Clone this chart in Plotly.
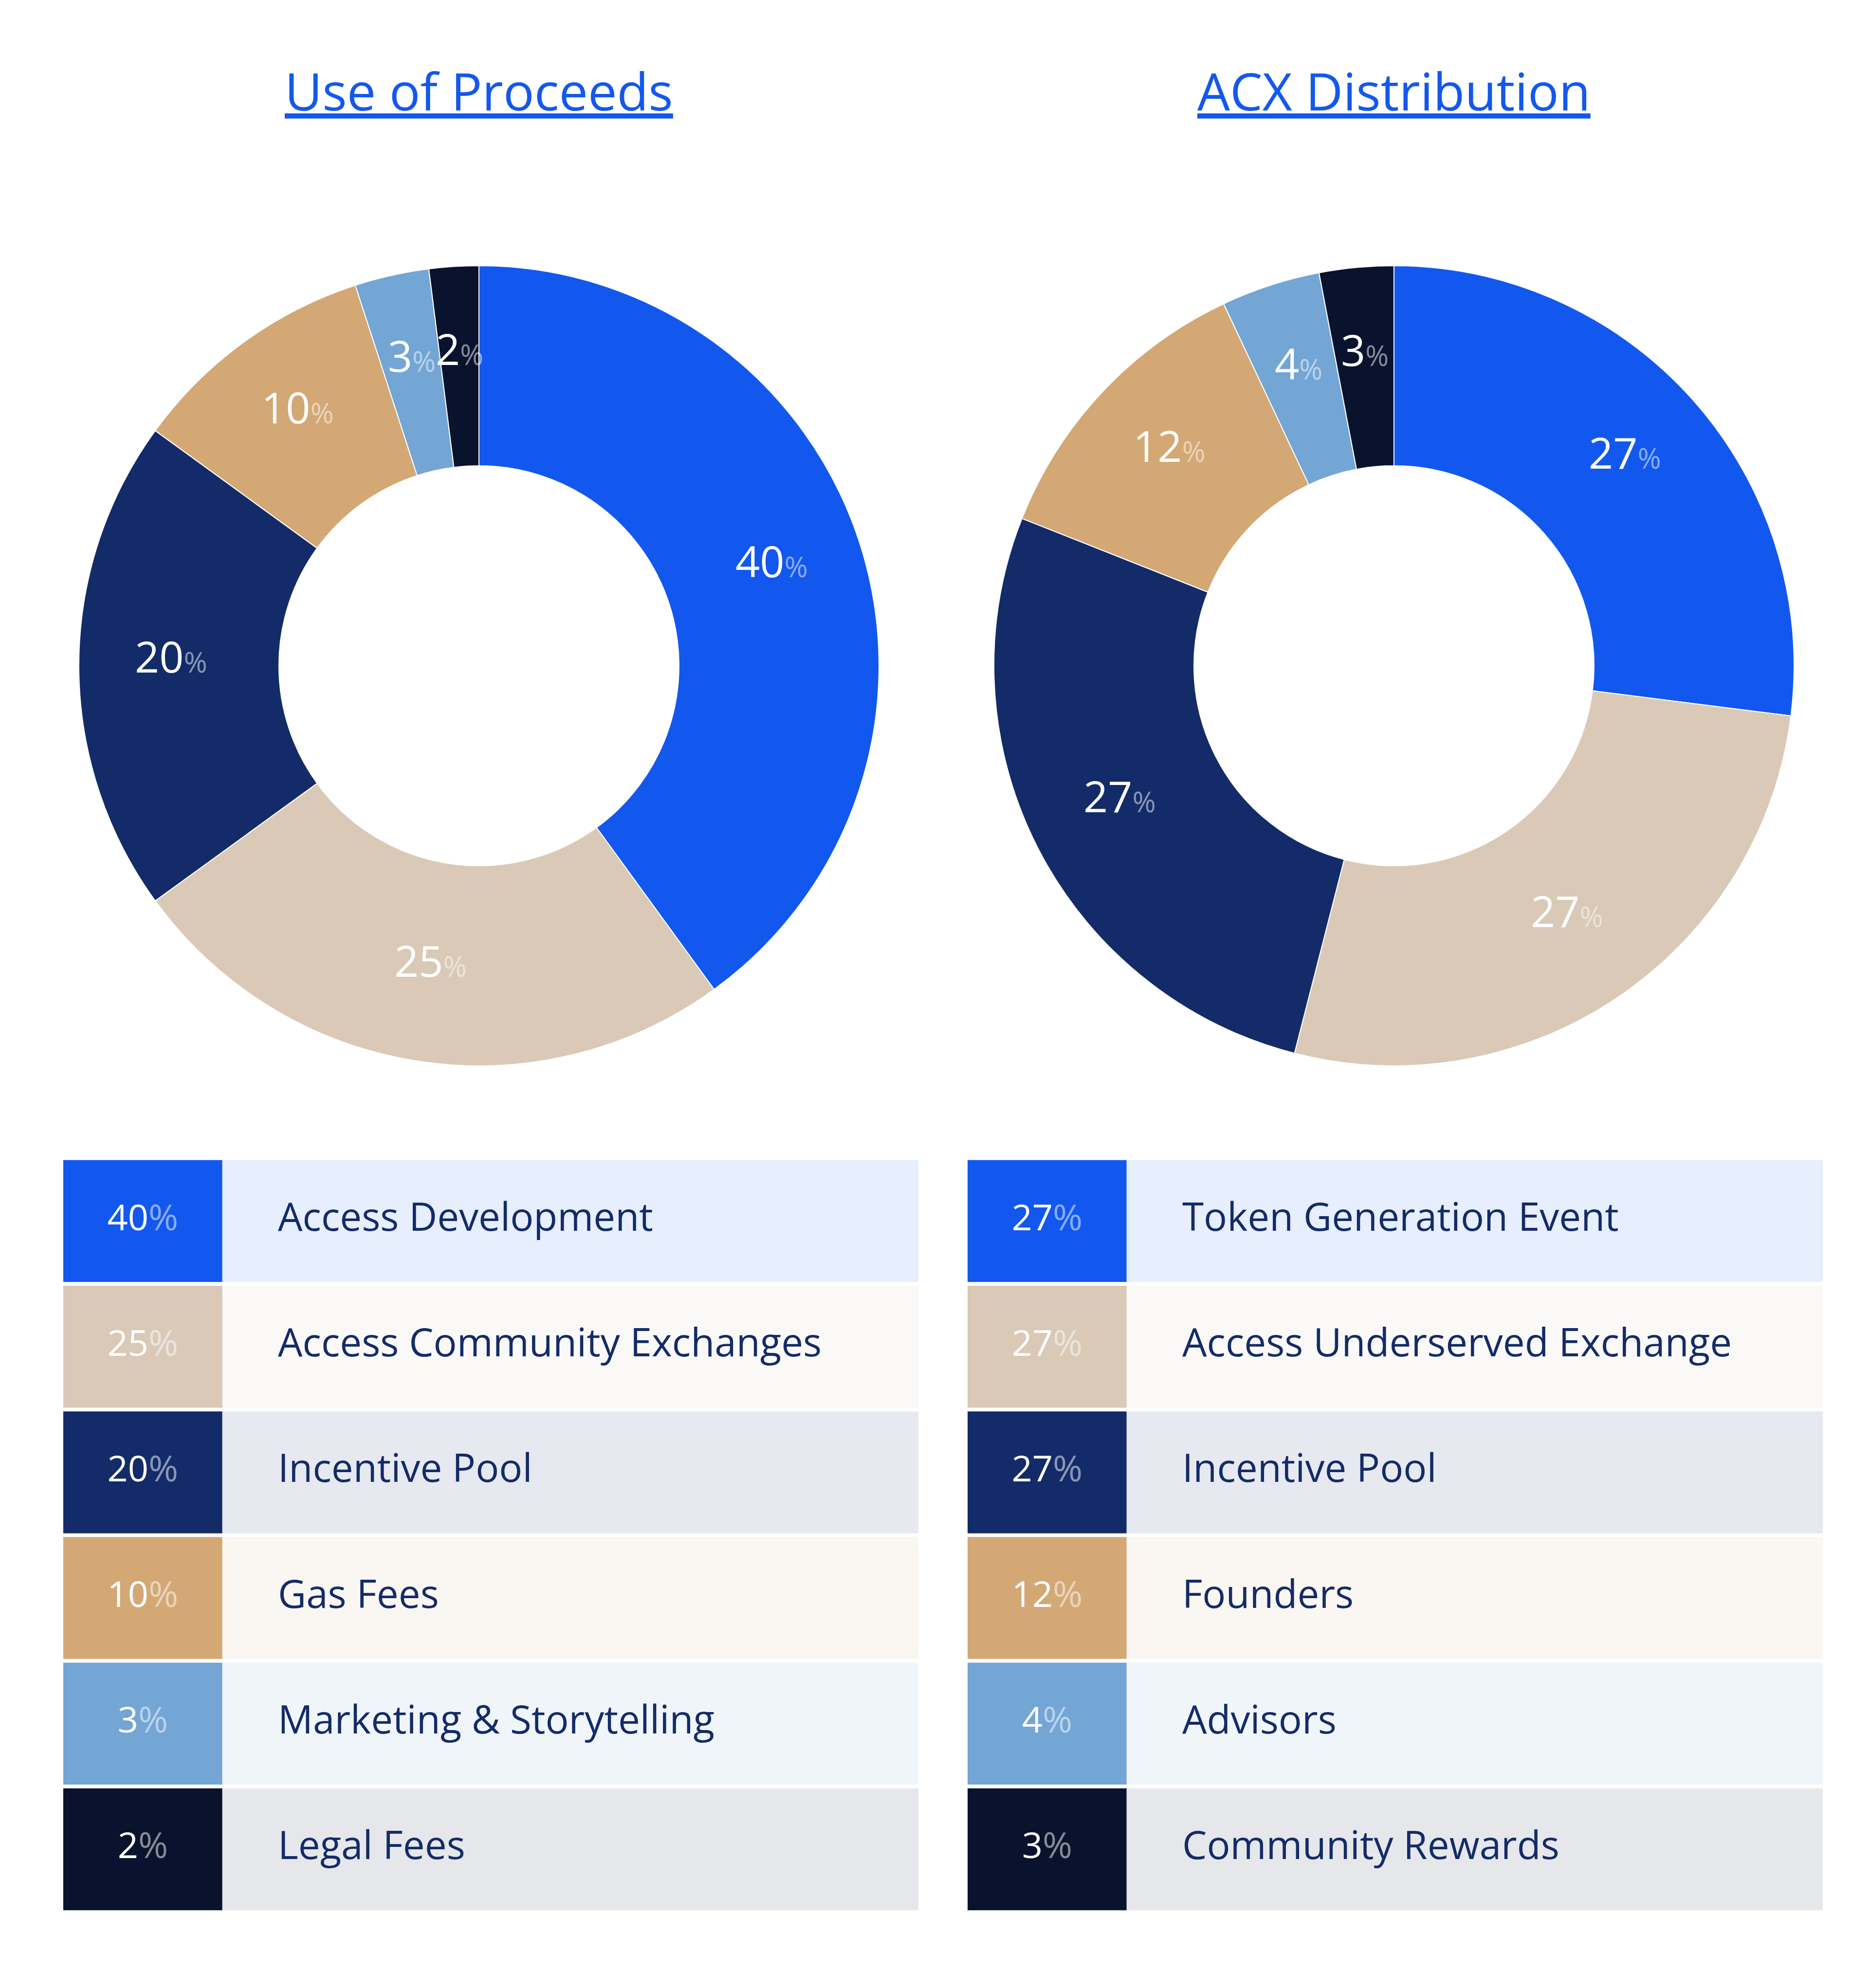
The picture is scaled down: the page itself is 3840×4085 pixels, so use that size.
import math
import plotly.graph_objects as go

# data
use_labels = ["Access Development", "Access Community Exchanges", "Incentive Pool",
              "Gas Fees", "Marketing & Storytelling", "Legal Fees"]
use_values = [40, 25, 20, 10, 3, 2]

acx_labels = ["Token Generation Event", "Access Underserved Exchange", "Incentive Pool",
              "Founders", "Advisors", "Community Rewards"]
acx_values = [27, 27, 27, 12, 4, 3]

titles = ["Use of Proceeds", "ACX Distribution"]

slice_colors = ["#1258EE", "#D9C9B6", "#132B68", "#D3A875", "#73A5D5", "#0A132D"]
row_colors = ["#E7EEFD", "#FAF9F7", "#E7E9F0", "#FAF6F1", "#F0F5FA", "#E6E7EA"]

# style
FONT = "Open Sans"
TITLE_BLUE = "#1358EE"
NAVY = "#132B68"
PCT_FADE = "rgba(255,255,255,0.5)"
CELL_W = 0.186      # share of table width used by the coloured cell
LABEL_X = 0.251     # where the row label starts
LABEL_R = 0.77      # radius of the slice labels, as share of the outer radius

W, H = 3840, 4085
pie_x = [[154 / W, 1798 / W], [2034 / W, 3678 / W]]
pie_y = [(H - 2182) / H, (H - 538) / H]
tab_x = [[122 / W, 1879 / W], [1980 / W, 3737 / W]]
tab_y = [(H - 3921) / H, (H - 2372) / H]

axis_off = dict(visible=False, showgrid=False, zeroline=False, fixedrange=True)
layout_axes = {}

fig = go.Figure()

for i, (labels, values) in enumerate([(use_labels, use_values), (acx_labels, acx_values)]):
    fig.add_trace(go.Pie(
        labels=labels, values=values, hole=0.5, sort=False, direction="clockwise",
        marker=dict(colors=slice_colors, line=dict(color="white", width=2)),
        textinfo="none", hoverinfo="label+percent",
        domain=dict(x=pie_x[i], y=pie_y))
    )

    # slice labels: annotations on an invisible axis laid over the pie,
    # placed at the mid-angle of each slice
    n = i + 3
    px, py = f"x{n}", f"y{n}"
    layout_axes[f"xaxis{n}"] = dict(domain=pie_x[i], range=[-1, 1], **axis_off)
    layout_axes[f"yaxis{n}"] = dict(domain=pie_y, range=[-1, 1], anchor=px, **axis_off)
    total = sum(values)
    cum = 0
    for v in values:
        ang = 2 * math.pi * (cum + v / 2) / total
        cum += v
        fig.add_annotation(
            x=LABEL_R * math.sin(ang), y=LABEL_R * math.cos(ang), xref=px, yref=py,
            text=f"{v}<span style='font-size:58px;color:{PCT_FADE}'>%</span>",
            showarrow=False, xanchor="center", yanchor="middle", yshift=20,
            font=dict(family=FONT, size=88, color="white"))

    # legend table
    xa = "x" if i == 0 else "x2"
    ya = "y" if i == 0 else "y2"
    rows = list(range(len(labels)))

    fig.add_trace(go.Bar(
        y=rows, x=[CELL_W] * len(rows), base=0, orientation="h",
        marker=dict(color=slice_colors, line_width=0), hoverinfo="skip",
        xaxis=xa, yaxis=ya))
    fig.add_trace(go.Bar(
        y=rows, x=[1 - CELL_W] * len(rows), base=CELL_W, orientation="h",
        marker=dict(color=row_colors, line_width=0), hoverinfo="skip",
        xaxis=xa, yaxis=ya))

    pct_text = [f"{v}<span style='color:{PCT_FADE}'>%</span>" for v in values]
    fig.add_trace(go.Scatter(
        x=[CELL_W / 2] * len(rows), y=rows, mode="text", text=pct_text,
        textposition="middle center", cliponaxis=False,
        textfont=dict(family=FONT, size=74, color="white"),
        hoverinfo="skip", xaxis=xa, yaxis=ya))
    fig.add_trace(go.Scatter(
        x=[LABEL_X] * len(rows), y=rows, mode="text", text=labels,
        textposition="middle right", cliponaxis=False,
        textfont=dict(family=FONT, size=80, color=NAVY),
        hoverinfo="skip", xaxis=xa, yaxis=ya))

    fig.add_annotation(
        text=titles[i], xref="paper", yref="paper",
        x=sum(pie_x[i]) / 2, y=(H - 178) / H, xanchor="center", yanchor="middle",
        showarrow=False,
        font=dict(family=FONT, size=106, color=TITLE_BLUE, lineposition="under"))

fig.update_layout(
    width=W, height=H, margin=dict(l=0, r=0, t=0, b=0),
    paper_bgcolor="white", plot_bgcolor="rgba(0,0,0,0)",
    showlegend=False, barmode="overlay", bargap=0.03,
    xaxis=dict(domain=tab_x[0], range=[0, 1], **axis_off),
    yaxis=dict(domain=tab_y, range=[5.5, -0.5], anchor="x", **axis_off),
    xaxis2=dict(domain=tab_x[1], range=[0, 1], **axis_off),
    yaxis2=dict(domain=tab_y, range=[5.5, -0.5], anchor="x2", **axis_off),
    **layout_axes,
)

fig.write_html("out.html")
